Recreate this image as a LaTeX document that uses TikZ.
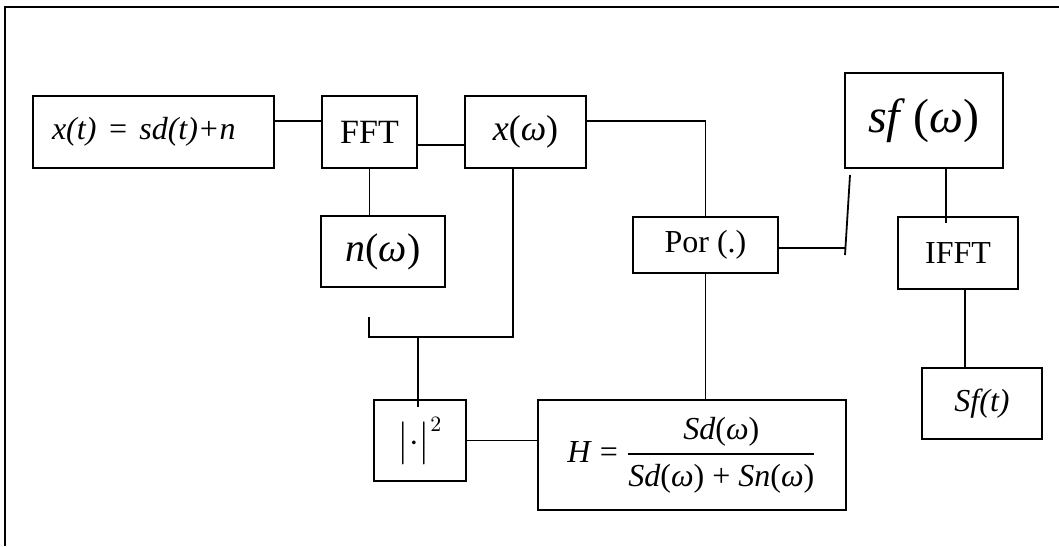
\documentclass[tikz,border=0pt]{standalone}
\usepackage{amsmath}
\usepackage{fontspec}
\setmainfont{Liberation Serif}

\begin{document}
\begin{tikzpicture}[x=0.5pt, y=-0.5pt,
      blk/.style={draw, line width=0.9pt, inner sep=0pt, align=center, font=\fontsize{16}{19}\selectfont},
      wire/.style={line width=0.9pt},
    ]
      \useasboundingbox (0,0) rectangle (1059,546);
      \draw[line width=1.2pt] (5,546) -- (5,7) -- (1059,7);

      \node[blk, minimum width=120.5pt, minimum height=36pt, text width=101.5pt, inner xsep=9.5pt, align=left] (xt) at (153.5,132) {\itshape x(t) = sd(t)+n};
      \node[blk, minimum width=47.5pt, minimum height=36pt, font=\fontsize{17}{20}\selectfont] (fft) at (369.5,132) {FFT};
      \node[blk, minimum width=60.5pt, minimum height=36pt, font=\fontsize{18}{21}\selectfont] (xw) at (525.5,132) {\textit{x}(\textit{ω})};
      \node[blk, minimum width=62pt, minimum height=35.5pt, font=\fontsize{20}{24}\selectfont] (nw) at (383,251.5) {\textit{n}(\textit{ω})};
      \node[blk, minimum width=72.5pt, minimum height=28pt] (por) at (705.5,245) {Por (.)};
      \node[blk, minimum width=79pt, minimum height=47.5pt, font=\fontsize{24}{28}\selectfont] (sf) at (924,120.5) {\textit{sf}\,(\textit{ω})};
      \node[blk, minimum width=60pt, minimum height=36pt] (ifft) at (958,253) {IFFT};
      \node[blk, minimum width=60pt, minimum height=35.5pt] (sft) at (982,403.5) {\textit{Sf(t)}};
      \node[blk, minimum width=46pt, minimum height=40.5pt] (sq) at (420,440.5) {$\bigl|\cdot\bigr|^{2}$};
      \node[blk, minimum width=154pt, minimum height=55pt] (H) at (692,455)
        {\textit{H} = $\dfrac{\text{\textit{Sd}(\textit{ω})}}{\text{\textit{Sd}(\textit{ω}) + \textit{Sn}(\textit{ω})}}$};

      \coordinate (tap) at (369,317);
      \coordinate (mix) at (418,337);
      \coordinate (knee) at (845,248);
      \coordinate (cut) at (845,255);
      \coordinate (cuttop) at (850,175);

      \draw[wire] ([yshift=5.5pt]xt.east) -- ([yshift=5.5pt]xt.east -| fft.west);
      \draw[wire] ([yshift=-6.5pt]fft.east) -- ([yshift=-6.5pt]fft.east -| xw.west);
      \draw[wire] ([yshift=5.5pt]xw.east) -| (por.north);
      \draw[wire] (fft.south) -- (fft.south |- nw.north);
      \draw[wire] ([xshift=-6.25pt]xw.south) |- (mix) -- (mix -| tap) -- (tap);
      \draw[wire] (mix) -- ([yshift=-4pt]mix |- sq.north);
      \draw[wire] (sq.east) -- (sq.east -| H.west);
      \draw[wire] (por.south) -- (por.south |- H.north);
      \draw[wire] ([yshift=-1.5pt]por.east) -- (knee);
      \draw[wire] (cut) -- (cuttop);
      \draw[wire] ([xshift=11pt]sf.south) -- ([xshift=11pt,yshift=-3.5pt]sf.south |- ifft.north);
      \draw[wire] ([xshift=3.5pt]ifft.south) -- ([xshift=3.5pt]ifft.south |- sft.north);
    \end{tikzpicture}
\end{document}
